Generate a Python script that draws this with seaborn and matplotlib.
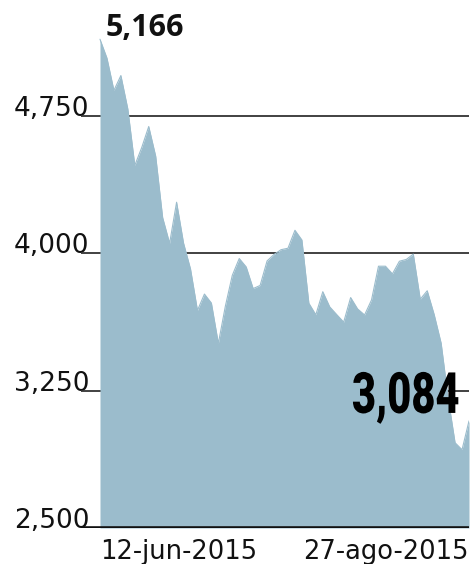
import matplotlib
matplotlib.use('Agg')
import matplotlib.pyplot as plt
import matplotlib.patheffects as pe
from matplotlib.transforms import Affine2D
import seaborn as sns
import pandas as pd

# Closing values, one per trading day
dates = ['2015-06-12', '2015-06-15', '2015-06-16', '2015-06-17', '2015-06-18', '2015-06-19',
         '2015-06-23', '2015-06-24', '2015-06-25', '2015-06-26', '2015-06-29', '2015-06-30',
         '2015-07-01', '2015-07-02', '2015-07-03', '2015-07-06', '2015-07-07', '2015-07-08',
         '2015-07-09', '2015-07-10', '2015-07-13', '2015-07-14', '2015-07-15', '2015-07-16',
         '2015-07-17', '2015-07-20', '2015-07-21', '2015-07-22', '2015-07-23', '2015-07-24',
         '2015-07-27', '2015-07-28', '2015-07-29', '2015-07-30', '2015-07-31', '2015-08-03',
         '2015-08-04', '2015-08-05', '2015-08-06', '2015-08-07', '2015-08-10', '2015-08-11',
         '2015-08-12', '2015-08-13', '2015-08-14', '2015-08-17', '2015-08-18', '2015-08-19',
         '2015-08-20', '2015-08-21', '2015-08-24', '2015-08-25', '2015-08-26', '2015-08-27']
closes = [5166, 5063, 4887, 4968, 4785, 4478, 4576, 4690, 4528, 4193, 4053, 4277,
          4054, 3913, 3687, 3776, 3727, 3507, 3709, 3878, 3970, 3924, 3806, 3823,
          3957, 3992, 4018, 4026, 4124, 4071, 3726, 3663, 3789, 3706, 3664, 3623,
          3757, 3695, 3662, 3744, 3928, 3928, 3886, 3955, 3965, 3994, 3748, 3794,
          3664, 3508, 3210, 2965, 2927, 3084]
y_ticks = [2500, 3250, 4000, 4750]
y_tick_labels = ['2,500', '3,250', '4,000', '4,750']
x_tick_labels = ['12-jun-2015', '27-ago-2015']
peak_label = '5,166'
last_label = '3,084'

fill_color = '#9bbccc'


class Squeeze(pe.AbstractPathEffect):
    """Narrows a text towards its right edge (condensed look), still a Text."""
    def __init__(self, sx):
        super().__init__()
        self.sx = sx

    def draw_path(self, renderer, gc, tpath, affine, rgbFace=None):
        x1 = tpath.get_extents().x1
        squeeze = Affine2D().translate(-x1, 0).scale(self.sx, 1).translate(x1, 0)
        renderer.draw_path(gc, tpath, squeeze + affine, rgbFace)


df = pd.DataFrame({'date': dates, 'close': closes})
df['i'] = range(len(df))

sns.set_theme(style='white')
plt.rcParams['font.family'] = ['DejaVu Sans']

fig = plt.figure(figsize=(4.72, 5.64), dpi=100)
ax = fig.add_axes([81 / 472, 36 / 564, 388 / 472, 495 / 564])

# area under the line
ax.fill_between(df['i'], df['close'], 2500, color=fill_color, linewidth=0, zorder=2)
sns.lineplot(data=df, x='i', y='close', ax=ax, color=fill_color, linewidth=0.8, zorder=3)

for t in y_ticks[1:]:
    ax.axhline(t, color='#333333', linewidth=1.3, zorder=1)
ax.axhline(2500, color='#111111', linewidth=2.6, zorder=4)

n = len(df)
ax.set_xlim(n - 1 - 388 / (369 / (n - 1)), n - 1)
ax.set_ylim(2500, 5200)

for s in ax.spines.values():
    s.set_visible(False)

ax.set_yticks(y_ticks)
ax.set_yticklabels(y_tick_labels, fontsize=19, color='#111111')
ax.tick_params(axis='y', length=0, pad=-6)
for lab in ax.get_yticklabels():
    lab.set_verticalalignment('baseline')

ax.set_xticks([0, n - 1])
ax.set_xticklabels(x_tick_labels, fontsize=18.5, color='#111111')
ax.tick_params(axis='x', length=0, pad=8)
xl = ax.get_xticklabels()
xl[0].set_horizontalalignment('left')
xl[1].set_horizontalalignment('right')
ax.set_xlabel('')
ax.set_ylabel('')

ax.annotate(peak_label, xy=(0, closes[0]), xytext=(6, 3), textcoords='offset pixels',
            ha='left', va='baseline', fontsize=22, fontweight='bold',
            family=['Open Sans', 'DejaVu Sans'], color='#111111', zorder=6)
ax.annotate(last_label, xy=(n - 1, closes[-1]), xytext=(-9, 8), textcoords='offset pixels',
            ha='right', va='baseline', fontsize=41, fontweight='black',
            family=['Roboto', 'DejaVu Sans'], color='#000000', zorder=6,
            path_effects=[Squeeze(0.73)])

fig.savefig('out.png', dpi=100)
